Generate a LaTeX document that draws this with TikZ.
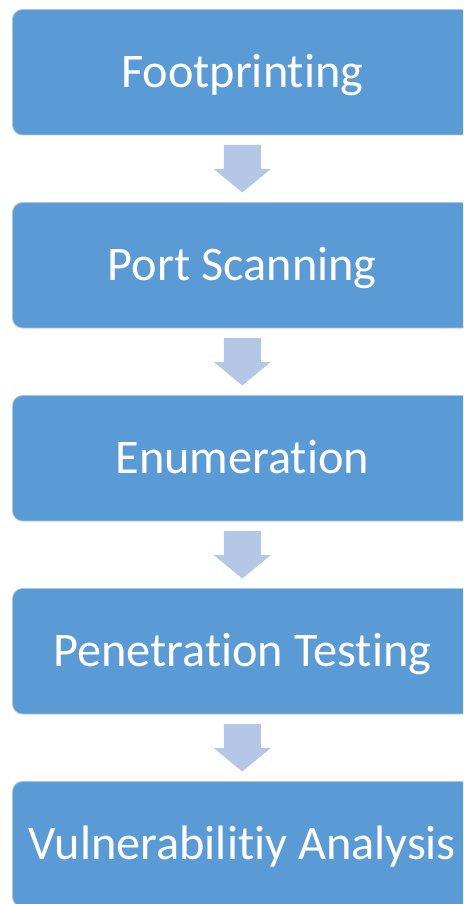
\documentclass[tikz,border=0pt]{standalone}
\usepackage{fontspec}
\setmainfont{Carlito}[Ligatures=NoCommon]
\usetikzlibrary{calc}
\definecolor{boxblue}{HTML}{5B9BD5}
\definecolor{boxedge}{HTML}{A9C8E8}
\definecolor{arrowblue}{HTML}{B4C7E7}
\begin{document}
\begin{tikzpicture}[x=1pt,y=-1pt,
  stage/.style={fill=boxblue, draw=boxedge, line width=0.8pt,
    rounded corners=10pt, minimum width=459.5pt, minimum height=125.5pt,
    inner sep=0pt, outer sep=0pt, text=white,
    text height=33.6pt, text depth=4pt,
    font=\fontsize{48.3}{58}\selectfont},
  flowarrow/.style={fill=arrowblue}]
\useasboundingbox (0,0) rectangle (463,904);
\clip (0,0) rectangle (463,904);
% process stages
\node[stage] (s1) at (242.25,72.25)  {Footprinting};
\node[stage] (s2) at (242.25,265.25) {Port Scanning};
\node[stage] (s3) at (242.25,458.25) {Enumeration};
\node[stage] (s4) at (242.25,651.25) {Penetration Testing};
\node[stage] (s5) at (242.25,844.25) {Vulnerabilitiy Analysis};
% block arrows between consecutive stages
\foreach \a/\b in {s1/s2, s2/s3, s3/s4, s4/s5}{
  \fill[flowarrow] ($(\a.south)+(-18.5,10)$) -- ($(\a.south)+(18.5,10)$)
    -- ($(\a.south)+(18.5,34)$) -- ($(\a.south)+(28.5,34)$)
    -- ($(\b.north)+(0,-10)$)
    -- ($(\a.south)+(-28.5,34)$) -- ($(\a.south)+(-18.5,34)$) -- cycle;
}
\end{tikzpicture}
\end{document}
